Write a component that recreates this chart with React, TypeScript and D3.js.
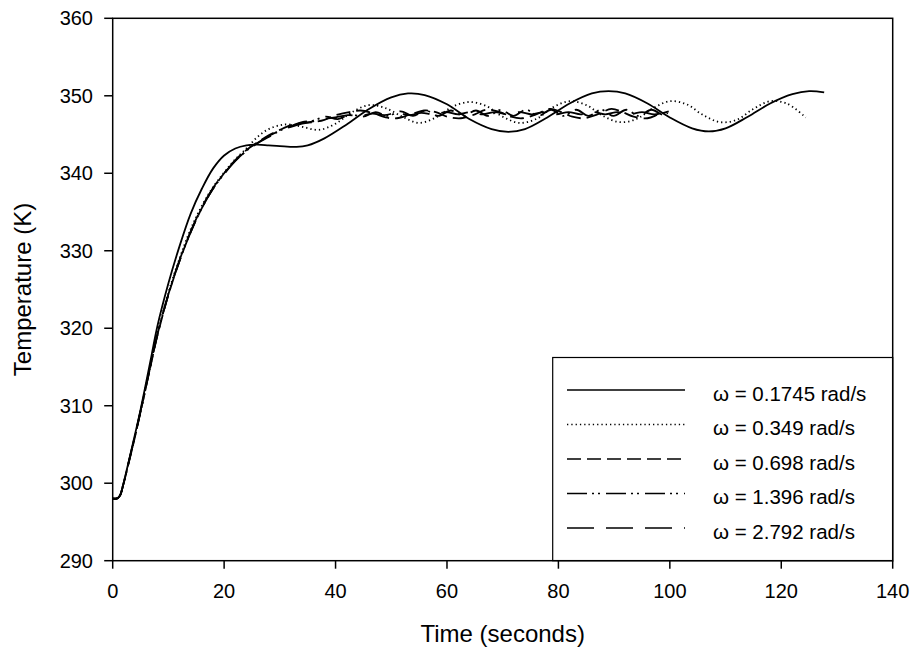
import React from "react";
import * as d3 from "d3";

const xTicks = [0, 20, 40, 60, 80, 100, 120, 140];
const yTicks = [290, 300, 310, 320, 330, 340, 350, 360];

const labels = [
  "ω = 0.1745 rad/s",
  "ω = 0.349 rad/s",
  "ω = 0.698 rad/s",
  "ω = 1.396 rad/s",
  "ω = 2.792 rad/s",
];

const s1: [number, number][] = [
  [0, 298], [0.8, 298.05], [1.3, 298.4], [1.9, 299.9], [3, 303.2], [4, 306.3], [5, 309.5], [6, 313], [7, 316.6], [8, 320.2],
  [10, 325.8], [12, 330.6], [14, 334.8], [16, 338], [18, 340.6], [20, 342.3], [22, 343.2], [24, 343.6], [26, 343.7],
  [28, 343.6], [30, 343.5], [33, 343.4], [35, 343.6], [38, 344.5], [42, 346.3], [46, 348.3], [50, 349.8], [53, 350.3],
  [56, 350.1], [60, 348.9], [64, 347.0], [68, 345.7], [71, 345.35], [74, 345.7], [78, 347.2], [82, 349.0], [86, 350.3],
  [89, 350.6], [92, 350.3], [96, 349.0], [100, 347.2], [104, 345.8], [107, 345.4], [110, 345.8], [114, 347.3],
  [118, 349.0], [122, 350.2], [125, 350.6], [127.7, 350.45],
];

const s2: [number, number][] = [
  [0, 298], [0.8, 298.05], [1.3, 298.4], [1.9, 299.8], [3, 303], [4, 306], [5, 309.2], [6, 312.5], [7, 315.9], [8, 319.2],
  [10, 324.6], [12, 329], [14, 332.8], [16, 335.8], [18, 338.2], [20, 340.1], [22, 341.8], [24, 343.2], [26, 344.7],
  [28, 345.7], [30, 346.2], [31.5, 346.3], [34, 346], [37, 345.6], [40, 346.4], [43, 347.9], [46, 348.8], [49, 348.4],
  [52, 347.3], [55, 346.5], [58, 347.2], [61, 348.6], [64, 349.2], [67, 348.7], [70, 347.3], [73, 346.5], [76, 347],
  [79, 348.5], [82, 349.3], [85, 348.8], [88, 347.4], [91, 346.6], [94, 347], [97, 348.4], [100, 349.3], [103, 348.9],
  [106, 347.5], [109, 346.6], [112, 346.9], [115, 348.3], [118, 349.3], [121, 349], [124.4, 347.2],
];

const s3: [number, number][] = [
  [0, 298], [0.8, 298.05], [1.3, 298.4], [1.9, 299.8], [3, 303], [4, 306], [5, 309.2], [6, 312.5], [7, 315.8], [8, 319],
  [10, 324.3], [12, 328.7], [14, 332.4], [16, 335.5], [18, 338], [20, 340], [22, 341.7], [24, 343], [26, 344],
  [28, 344.9], [30, 345.6], [32, 346.2], [34, 346.5], [36, 346.6], [38, 346.9], [40, 347.5], [42.5, 347.9],
  [44.5, 348.1], [47, 347.7], [49, 347.2], [51, 347.1], [53.5, 347.6], [56, 348.1], [58, 347.9], [60, 347.3],
  [62.5, 347.1], [65, 347.6], [67, 348.2], [69.5, 347.9], [71.5, 347.3], [73.5, 347.1], [76, 347.6], [78.5, 348.3],
  [80.5, 347.9], [82.5, 347.3], [84.5, 347.1], [87, 347.6], [89.5, 348.3], [91.5, 347.9], [93.5, 347.3], [96, 347.1],
  [98, 347.6], [99.8, 348],
];

const s4: [number, number][] = [
  [0, 298], [0.8, 298.05], [1.3, 298.4], [1.9, 299.8], [3, 303.1], [4, 306.1], [5, 309.3], [6, 312.6], [7, 315.9],
  [8, 319.1], [10, 324.4], [12, 328.7], [14, 332.4], [16, 335.5], [18, 338], [20, 339.9], [22, 341.6], [24, 342.9],
  [26, 343.9], [28, 344.7], [30, 345.5], [32, 346.1], [34, 346.6], [36, 346.8], [38.2, 347.3], [40.4, 347.0],
  [42.7, 347.6], [44.9, 347.3], [47.2, 347.9], [49.4, 347.4], [51.7, 348.0], [53.9, 347.4], [56.2, 348.1],
  [58.4, 347.4], [60.7, 348.1], [62.9, 347.4], [65.2, 348.1], [67.4, 347.4], [69.7, 348.2], [71.9, 347.4],
  [74.2, 348.2], [76.4, 347.4], [78.7, 348.2], [80.9, 347.4], [83.2, 348.2], [85.4, 347.4], [87.7, 348.2],
  [89.9, 347.4], [92.2, 348.2], [94.4, 347.4], [96.7, 348.2], [98.9, 347.5], [99.6, 347.8],
];

const s5: [number, number][] = [
  [0, 298], [0.8, 298.05], [1.3, 298.4], [1.9, 299.8], [3, 303.1], [4, 306.1], [5, 309.3], [6, 312.6], [7, 315.9],
  [8, 319.1], [10, 324.4], [12, 328.8], [14, 332.5], [16, 335.6], [18, 338.1], [20, 340], [22, 341.6], [24, 342.9],
  [26, 343.9], [28, 344.8], [30, 345.5], [32, 346.0], [34, 346.4], [36, 346.7], [38, 347.0], [40, 347.2],
  [42.2, 347.5], [44.4, 347.4], [46.6, 347.7], [48.8, 347.5], [51, 347.8], [53.2, 347.5], [55.4, 347.8],
  [57.6, 347.6], [59.8, 347.9], [62, 347.6], [64.2, 347.9], [66.4, 347.6], [68.6, 347.9], [70.8, 347.6],
  [73, 347.9], [75.2, 347.6], [77.4, 347.9], [79.6, 347.6], [81.8, 347.9], [84, 347.6], [86.2, 347.9],
  [88.4, 347.6], [90.6, 347.9], [92.8, 347.6], [95, 347.9], [97.2, 347.6], [98.6, 347.8],
];

const series = [s1, s2, s3, s4, s5];
const dashes = ["none", "1.3,3", "14,6", "20,5,2,4,2,6", "27,12"];

export default function App() {
  const W = 915, H = 654;
  const left = 112.7, right = 892.7, top = 18.3, bottom = 560.7;
  const x = d3.scaleLinear().domain([0, 140]).range([left, right]);
  const y = d3.scaleLinear().domain([290, 360]).range([bottom, top]);
  const line = d3
    .line<[number, number]>()
    .x((d) => x(d[0]))
    .y((d) => y(d[1]))
    .curve(d3.curveCatmullRom.alpha(0.5));

  const font = "'Liberation Sans', Arial, sans-serif";
  const legX = 552.7, legTop = 357.5;
  const rowY = (i: number) => 390 + i * 34.5;

  return (
    <svg width={W} height={H} style={{ position: "absolute", left: 0, top: 0, background: "#fff" }} fontFamily={font}>
      <rect x={0} y={0} width={W} height={H} fill="#fff" />
      <defs>
        <clipPath id="plot">
          <rect x={left} y={top} width={right - left} height={bottom - top} />
        </clipPath>
      </defs>
      <g clipPath="url(#plot)">
        {series.map((s, i) => (
          <path
            key={i}
            d={line(s) || ""}
            fill="none"
            stroke="#000"
            strokeWidth={1.8}
            strokeDasharray={dashes[i]}
          />
        ))}
      </g>
      {/* legend */}
      <rect x={legX} y={legTop} width={right - legX} height={bottom - legTop} fill="#fff" stroke="#000" strokeWidth={1.2} />
      {labels.map((lab, i) => (
        <g key={i}>
          <line x1={567} x2={685} y1={rowY(i)} y2={rowY(i)} stroke="#000" strokeWidth={1.3} strokeDasharray={dashes[i]} />
          <text x={713} y={rowY(i) + 10.5} fontSize={20.5} fill="#000">
            {lab}
          </text>
        </g>
      ))}
      {/* frame */}
      <rect x={left} y={top} width={right - left} height={bottom - top} fill="none" stroke="#000" strokeWidth={1.5} />
      {yTicks.map((t) => (
        <g key={"y" + t}>
          <line x1={left - 8.5} x2={left} y1={y(t)} y2={y(t)} stroke="#000" strokeWidth={1.5} />
          <text x={93} y={y(t) + 7} textAnchor="end" fontSize={20} fill="#000">
            {t}
          </text>
        </g>
      ))}
      {xTicks.map((t) => (
        <g key={"x" + t}>
          <line x1={x(t)} x2={x(t)} y1={bottom} y2={bottom + 8} stroke="#000" strokeWidth={1.5} />
          <text x={x(t)} y={598} textAnchor="middle" fontSize={20} fill="#000">
            {t}
          </text>
        </g>
      ))}
      <text x={(left + right) / 2} y={642} textAnchor="middle" fontSize={24} fill="#000">
        Time (seconds)
      </text>
      <text
        transform={`translate(31,${(top + bottom) / 2}) rotate(-90)`}
        textAnchor="middle"
        fontSize={24}
        fill="#000"
      >
        Temperature (K)
      </text>
    </svg>
  );
}
